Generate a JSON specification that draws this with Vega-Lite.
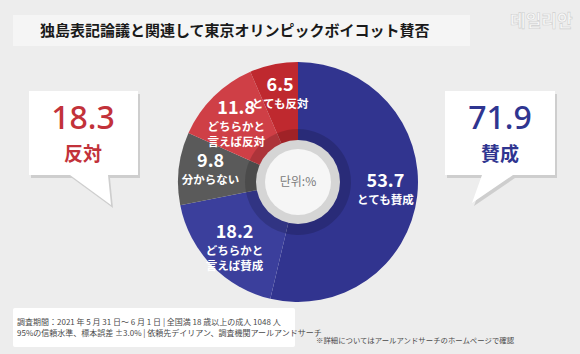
{
  "$schema": "https://vega.github.io/schema/vega-lite/v6.json",
  "width": 580,
  "height": 354,
  "autosize": {"type": "fit", "contains": "padding"},
  "padding": {"left": 16, "top": 10, "right": 0, "bottom": 0},
  "background": "#ededed",
  "config": {"view": {"stroke": null}, "font": "Noto Sans CJK JP"},
  "datasets": {
    "pie": [
      {"cat": "とても賛成", "value": 53.7, "label": "とても賛成", "order": 1},
      {"cat": "どちらかと言えば賛成", "value": 18.2, "label": "どちらかと\n言えば賛成", "order": 2},
      {"cat": "分からない", "value": 9.8, "label": "分からない", "order": 3},
      {"cat": "どちらかと言えば反対", "value": 11.8, "label": "どちらかと\n言えば反対", "order": 4},
      {"cat": "とても反対", "value": 6.5, "label": "とても反対", "order": 5}
    ],
    "callout": [
      {"side": "反対", "value": 18.3},
      {"side": "賛成", "value": 71.9}
    ],
    "one": [{"v": 1}]
  },
  "layer": [
    {
      "data": {"name": "one"},
      "mark": {"type": "point", "shape": "M-285,-167H172V-136H-285Z", "size": 4, "filled": true, "fill": "#f5f5f5", "opacity": 1, "strokeWidth": 0},
      "encoding": {}
    },
    {
      "data": {"name": "one"},
      "mark": {"type": "text", "align": "left", "baseline": "middle", "dx": -258, "dy": -151, "fontSize": 15, "fontWeight": "bold", "fill": "#1a1a1a"},
      "encoding": {"text": {"value": "独島表記論議と関連して東京オリンピックボイコット賛否"}}
    },
    {
      "data": {"name": "one"},
      "mark": {"type": "text", "align": "left", "baseline": "middle", "dx": 212, "dy": -160, "fontSize": 17, "fontWeight": "bold", "font": "Noto Sans CJK KR", "fill": "#f9f9f9", "stroke": "#cfcfcf", "strokeWidth": 0.6},
      "encoding": {"text": {"value": "데일리안"}}
    },
    {
      "data": {"name": "pie"},
      "mark": {"type": "arc", "outerRadius": 120},
      "encoding": {
        "theta": {"field": "value", "type": "quantitative", "stack": true},
        "order": {"field": "order", "type": "quantitative"},
        "color": {
          "field": "cat", "type": "nominal", "legend": null,
          "scale": {
            "domain": ["とても賛成", "どちらかと言えば賛成", "分からない", "どちらかと言えば反対", "とても反対"],
            "range": ["#31348f", "#3b3f9c", "#5a5a5a", "#cf3f46", "#bf292f"]
          }
        }
      }
    },
    {
      "data": {"name": "pie"},
      "mark": {"type": "arc", "outerRadius": 53, "fill": "#000000", "opacity": 0.16},
      "encoding": {
        "theta": {"field": "value", "type": "quantitative", "stack": true},
        "order": {"field": "order", "type": "quantitative"}
      }
    },
    {
      "data": {"name": "one"},
      "mark": {"type": "arc", "outerRadius": 42, "fill": "#d5d5d5"},
      "encoding": {"theta": {"field": "v", "type": "quantitative"}}
    },
    {
      "data": {"name": "one"},
      "mark": {"type": "arc", "outerRadius": 33, "fill": "#f6f6f6"},
      "encoding": {"theta": {"field": "v", "type": "quantitative"}}
    },
    {
      "data": {"name": "one"},
      "mark": {"type": "text", "align": "center", "baseline": "middle", "fontSize": 12, "font": "Noto Sans CJK KR", "fill": "#7a7a7a"},
      "encoding": {"text": {"value": "단위:%"}}
    },
    {
      "data": {"name": "pie"},
      "mark": {"type": "text", "radius": 88, "align": "center", "baseline": "bottom", "dy": -1, "fontSize": 18, "fontWeight": "bold", "fill": "#ffffff"},
      "encoding": {
        "theta": {"field": "value", "type": "quantitative", "stack": true},
        "order": {"field": "order", "type": "quantitative"},
        "text": {"field": "value", "type": "quantitative", "format": ".1f"}
      }
    },
    {
      "data": {"name": "pie"},
      "mark": {"type": "text", "radius": 88, "align": "center", "baseline": "top", "dy": 3, "fontSize": 11.5, "fontWeight": "bold", "lineBreak": "\n", "lineHeight": 15, "fill": "#ffffff"},
      "encoding": {
        "theta": {"field": "value", "type": "quantitative", "stack": true},
        "order": {"field": "order", "type": "quantitative"},
        "text": {"field": "label", "type": "nominal"}
      }
    },
    {
      "data": {"name": "callout"},
      "mark": {"type": "point", "size": 4, "filled": true, "fill": "#000000", "opacity": 0.13, "strokeWidth": 0},
      "encoding": {
        "x": {"field": "side", "type": "nominal", "axis": null, "scale": {"type": "point", "domain": ["反対", "賛成"], "range": [67, 484], "padding": 0}},
        "shape": {"field": "side", "type": "nominal", "legend": null, "scale": {"domain": ["反対", "賛成"], "range": ["M-52,-88H57V-4H27L30,26L-11,-4H-52Z", "M-53,-88H57V-4H15L-26,24L-16,-4H-53Z"]}}
      }
    },
    {
      "data": {"name": "callout"},
      "mark": {"type": "point", "size": 4, "filled": true, "fill": "#ffffff", "opacity": 1, "strokeWidth": 0},
      "encoding": {
        "x": {"field": "side", "type": "nominal", "axis": null, "scale": {"type": "point", "domain": ["反対", "賛成"], "range": [67, 484], "padding": 0}},
        "shape": {"field": "side", "type": "nominal", "legend": null, "scale": {"domain": ["反対", "賛成"], "range": ["M-54,-91H55V-7H25L28,23L-13,-7H-54Z", "M-55,-91H55V-7H13L-28,21L-18,-7H-55Z"]}}
      }
    },
    {
      "data": {"name": "callout"},
      "mark": {"type": "text", "align": "center", "baseline": "middle", "dy": -63, "fontSize": 32, "fontWeight": 500, "font": "Noto Sans"},
      "encoding": {
        "x": {"field": "side", "type": "nominal", "axis": null, "scale": {"type": "point", "domain": ["反対", "賛成"], "range": [67, 484], "padding": 0}},
        "text": {"field": "value", "type": "quantitative", "format": ".1f"},
        "fill": {"field": "side", "type": "nominal", "legend": null, "scale": {"domain": ["反対", "賛成"], "range": ["#c2323a", "#2f3590"]}}
      }
    },
    {
      "data": {"name": "callout"},
      "mark": {"type": "text", "align": "center", "baseline": "middle", "dy": -27, "fontSize": 19, "fontWeight": "bold"},
      "encoding": {
        "x": {"field": "side", "type": "nominal", "axis": null, "scale": {"type": "point", "domain": ["反対", "賛成"], "range": [67, 484], "padding": 0}},
        "text": {"field": "side", "type": "nominal"},
        "fill": {"field": "side", "type": "nominal", "legend": null, "scale": {"domain": ["反対", "賛成"], "range": ["#c2323a", "#2f3590"]}}
      }
    },
    {
      "data": {"name": "one"},
      "mark": {"type": "point", "shape": "M-283,126H-5Q-3,126 -3,128V163Q-3,165 -5,165H-283Q-285,165 -285,163V128Q-285,126 -283,126Z", "size": 4, "filled": true, "fill": "#ffffff", "opacity": 1, "strokeWidth": 0},
      "encoding": {}
    },
    {
      "data": {"name": "one"},
      "mark": {"type": "text", "align": "left", "baseline": "middle", "dx": -281, "dy": 141, "fontSize": 8, "fill": "#4a4a4a"},
      "encoding": {"text": {"value": "調査期間：2021 年 5 月 31 日～ 6 月 1 日 | 全国満 18 歳以上の成人 1048 人"}}
    },
    {
      "data": {"name": "one"},
      "mark": {"type": "text", "align": "left", "baseline": "middle", "dx": -281, "dy": 152, "fontSize": 8, "fill": "#4a4a4a"},
      "encoding": {"text": {"value": "95%の信頼水準、標本誤差 ±3.0% | 依頼先デイリアン、調査機関アールアンドサーチ"}}
    },
    {
      "data": {"name": "one"},
      "mark": {"type": "text", "align": "left", "baseline": "middle", "dx": 18, "dy": 159, "fontSize": 7.4, "fill": "#4a4a4a"},
      "encoding": {"text": {"value": "※詳細についてはアールアンドサーチのホームページで確認"}}
    }
  ],
  "resolve": {"scale": {"theta": "independent", "shape": "independent"}}
}
